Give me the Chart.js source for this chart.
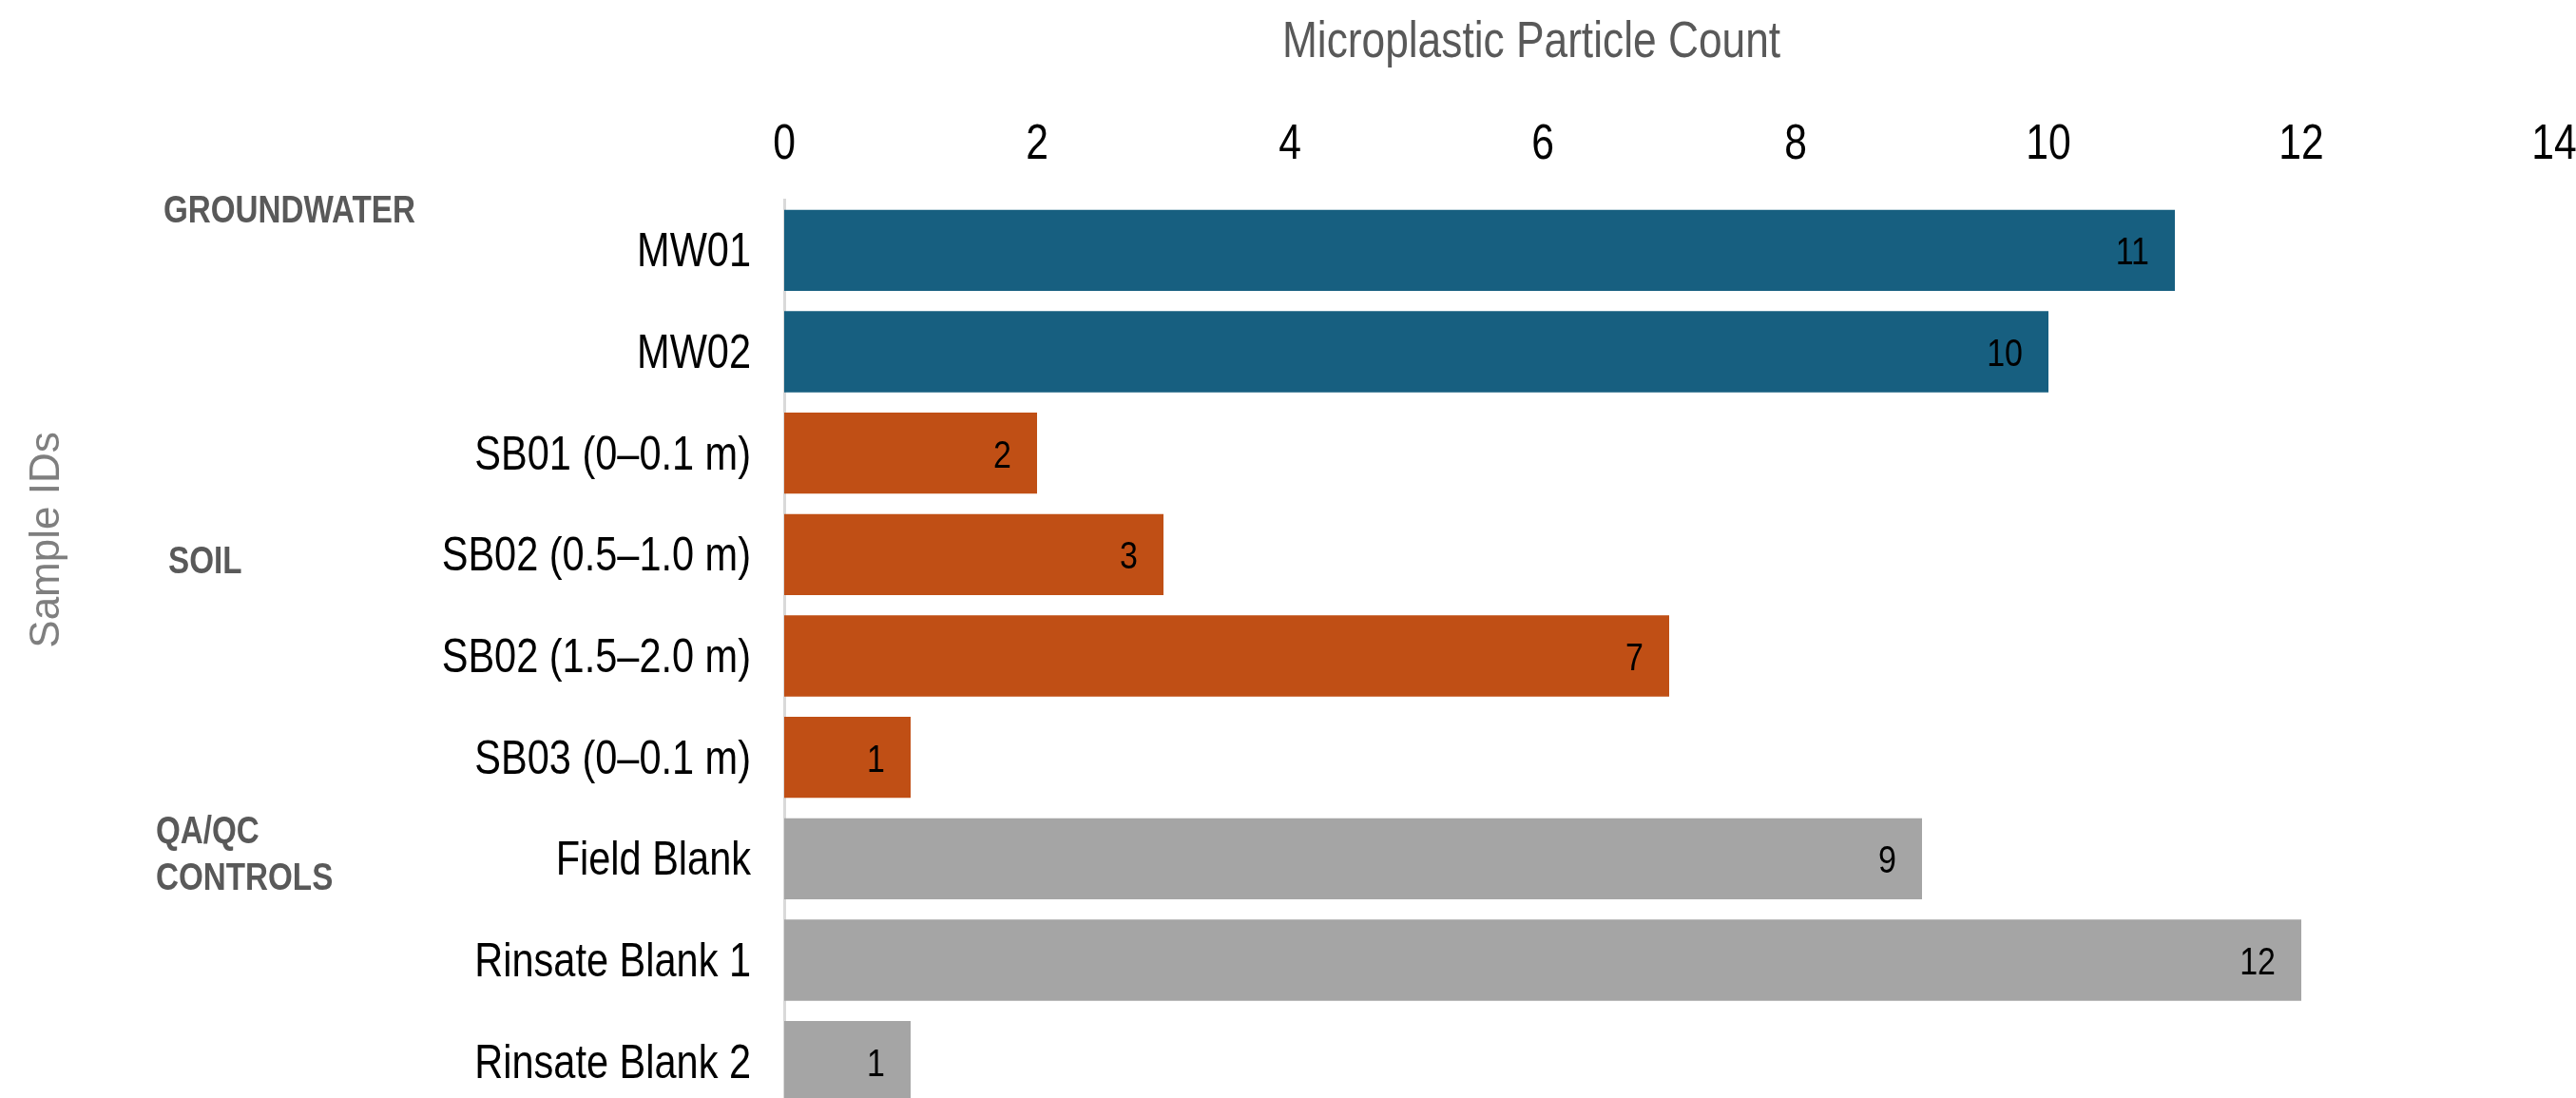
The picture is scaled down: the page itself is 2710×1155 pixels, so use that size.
<!DOCTYPE html>
<html>
<head>
<meta charset="utf-8">
<title>Microplastic Particle Count</title>
<script src="https://cdn.jsdelivr.net/npm/chart.js@4"></script>
<style>
    html, body { margin: 0; padding: 0; background: #ffffff; overflow: hidden; }
    #wrap { width: 2710px; height: 1172px; }
</style>
</head>
<body>
<div id="wrap">
    <canvas id="countChart" width="2710" height="1172"></canvas>
</div>
<script>
// sample data
const sampleIds = ['MW01', 'MW02', 'SB01 (0–0.1 m)', 'SB02 (0.5–1.0 m)', 'SB02 (1.5–2.0 m)',
    'SB03 (0–0.1 m)', 'Field Blank', 'Rinsate Blank 1', 'Rinsate Blank 2'];
const particleCounts = [11, 10, 2, 3, 7, 1, 9, 12, 1];
const sampleGroups = ['groundwater', 'groundwater', 'soil', 'soil', 'soil', 'soil', 'qaqc', 'qaqc', 'qaqc'];
const countTicks = [0, 2, 4, 6, 8, 10, 12, 14];

const groupColors = {
    groundwater: '#175f80',
    soil: '#c04f15',
    qaqc: '#a5a5a5'
};

const FONT = '"Liberation Sans", Arial, sans-serif';

// no narrow face installed, so squeeze the regular one horizontally
function narrowText(ctx, text, x, y, align, squeeze) {
    ctx.save();
    ctx.translate(x, y);
    ctx.scale(squeeze, 1);
    ctx.textAlign = align;
    ctx.textBaseline = 'alphabetic';
    ctx.fillText(text, 0, 0);
    ctx.restore();
}

// tick labels for both axes, placed from the chart's scales
const axisLabels = {
    id: 'axisLabels',
    afterDraw(chart) {
        const ctx = chart.ctx;
        const xs = chart.scales.x;
        const ys = chart.scales.y;
        ctx.save();
        ctx.fillStyle = '#000000';
        ctx.font = '52px ' + FONT;
        countTicks.forEach(v => {
            narrowText(ctx, String(v), xs.getPixelForValue(v), 167, 'center', 0.82);
        });
        ctx.font = '50px ' + FONT;
        sampleIds.forEach((id, i) => {
            narrowText(ctx, id, ys.right - 35, ys.getPixelForValue(i) + 17, 'right', 0.83);
        });
        ctx.restore();
    }
};

// value printed inside the end of each bar
const barValueLabels = {
    id: 'barValueLabels',
    afterDatasetsDraw(chart) {
        const ctx = chart.ctx;
        const meta = chart.getDatasetMeta(0);
        ctx.save();
        ctx.font = '40px ' + FONT;
        ctx.fillStyle = '#000000';
        meta.data.forEach((bar, i) => {
            narrowText(ctx, String(particleCounts[i]), bar.x - 27, bar.y + 15, 'right', 0.85);
        });
        ctx.restore();
    }
};

// axis titles and group headings on the left
const sideText = {
    id: 'sideText',
    afterDraw(chart) {
        const ctx = chart.ctx;
        ctx.save();
        ctx.fillStyle = '#595959';
        ctx.font = '54px ' + FONT;
        narrowText(ctx, 'Microplastic Particle Count', 1611, 60, 'center', 0.82);

        ctx.font = 'bold 40px ' + FONT;
        narrowText(ctx, 'GROUNDWATER', 172, 234, 'left', 0.83);
        narrowText(ctx, 'SOIL', 177, 603, 'left', 0.83);
        narrowText(ctx, 'QA/QC', 164, 887, 'left', 0.83);
        narrowText(ctx, 'CONTROLS', 164, 936, 'left', 0.83);

        ctx.translate(62, 568);
        ctx.rotate(-Math.PI / 2);
        ctx.textAlign = 'center';
        ctx.fillStyle = '#7f7f7f';
        ctx.font = '44px ' + FONT;
        ctx.fillText('Sample IDs', 0, 0);
        ctx.restore();
    }
};

const ctx = document.getElementById('countChart').getContext('2d');
const countChart = new Chart(ctx, {
    type: 'bar',
    data: {
        labels: sampleIds,
        datasets: [{
            label: 'Microplastic Particle Count',
            data: particleCounts,
            backgroundColor: sampleGroups.map(g => groupColors[g]),
            borderWidth: 0,
            barPercentage: 0.8,
            categoryPercentage: 1.0
        }]
    },
    options: {
        indexAxis: 'y',
        responsive: false,
        animation: false,
        devicePixelRatio: 1,
        layout: {
            padding: { top: 0, left: 0, right: 23, bottom: 2 }
        },
        plugins: {
            legend: { display: false },
            tooltip: { enabled: false }
        },
        scales: {
            x: {
                position: 'top',
                min: 0,
                max: 14,
                afterBuildTicks(scale) {
                    scale.ticks = countTicks.map(v => ({ value: v }));
                },
                afterFit(scale) {
                    scale.height = 210;
                    scale.paddingLeft = 0;
                    scale.paddingRight = 0;
                },
                grid: { display: false, drawTicks: false },
                border: { display: false },
                ticks: { display: false }
            },
            y: {
                afterFit(scale) {
                    scale.width = 825;
                    scale.paddingTop = 0;
                    scale.paddingBottom = 0;
                },
                grid: { display: false, drawTicks: false },
                border: { display: true, color: '#d9d9d9', width: 3 },
                ticks: { display: false }
            }
        }
    },
    plugins: [barValueLabels, axisLabels, sideText]
});
</script>
</body>
</html>
